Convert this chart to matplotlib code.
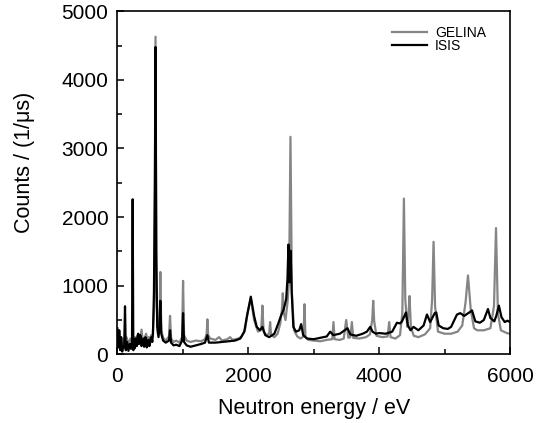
import matplotlib
matplotlib.use("Agg")
import matplotlib.pyplot as plt
from matplotlib.ticker import MultipleLocator

plt.rcParams['font.family'] = ['Liberation Sans', 'DejaVu Sans']

# GELINA spectrum (energy in eV, counts per microsecond)
gelina_energy = [0, 20, 40, 60, 80, 100, 120, 140, 160, 180, 200, 220, 235, 250, 270, 290, 310,
                 330, 350, 370, 390, 420, 440, 460, 480, 500, 520, 540, 565, 584, 600, 620,
                 645, 658, 672, 700, 740, 790, 806, 822, 860,
                 900, 950, 990, 1005, 1020, 1060, 1120, 1200, 1280, 1340, 1366, 1376, 1388,
                 1420, 1500, 1555, 1600, 1680, 1723, 1760, 1850, 1900, 1950, 1990, 2040,
                 2090, 2150, 2200, 2217, 2235, 2280, 2320, 2335, 2350, 2400, 2450, 2490,
                 2515, 2529, 2545, 2570, 2600, 2625, 2646, 2668, 2700, 2750, 2800, 2845,
                 2860, 2875, 2920, 3000, 3100, 3200, 3285, 3303, 3320, 3400, 3460, 3497,
                 3530, 3560, 3584, 3605, 3700, 3800, 3860, 3895, 3910, 3925, 3960, 4050,
                 4130, 4154, 4175, 4250, 4320, 4355, 4379, 4400, 4430, 4450, 4465, 4485,
                 4530, 4600, 4700, 4780, 4810, 4832, 4855, 4900, 5000, 5100, 5200, 5270,
                 5320, 5358, 5400, 5450, 5500, 5600, 5700, 5755, 5786, 5815, 5860, 5950, 6000]
gelina_counts = [320, 260, 200, 170, 150, 220, 170, 250, 190, 160, 230, 200, 260, 180, 250, 220,
                 280, 260, 200, 360, 200, 240, 300, 190, 250, 220, 280, 260, 700, 4630, 900, 300,
                 400, 1200, 350, 240, 200, 260, 560, 230, 180,
                 200, 170, 250, 1070, 280, 200, 180, 200, 190, 220, 300, 510, 280,
                 230, 210, 250, 200, 220, 250, 210, 230, 260, 350, 600, 820,
                 500, 330, 360, 710, 330, 280, 300, 470, 280, 250, 300, 450,
                 650, 890, 600, 500, 750, 1100, 3170, 900, 350, 260, 230, 260,
                 730, 250, 210, 200, 190, 210, 220, 470, 220, 210, 230, 500,
                 240, 250, 470, 240, 230, 250, 290, 500, 780, 480, 270, 250,
                 260, 470, 250, 230, 280, 600, 2270, 800, 400, 600, 850, 400,
                 270, 250, 290, 380, 800, 1640, 700, 330, 300, 300, 330, 420,
                 750, 1150, 650, 380, 350, 350, 380, 700, 1840, 600, 350, 310, 300]

# ISIS spectrum
isis_energy = [0, 10, 20, 30, 45, 60, 75, 90, 105, 118, 130, 150, 170, 190, 210, 225, 235, 245,
               260, 270, 280, 290, 300, 310, 320, 330, 340, 350, 360, 370, 380, 390, 400, 410,
               420, 430, 440, 450, 460, 470, 480, 490, 500, 510, 520, 535, 545,
               560, 575, 584, 595, 610, 630, 645, 658, 672, 700, 740, 790, 806, 822, 860,
               900, 950, 990, 1005, 1020, 1060, 1120, 1200, 1280, 1340, 1376, 1400, 1500,
               1600, 1700, 1800, 1880, 1940, 1980, 2040, 2090, 2130, 2180, 2217, 2260,
               2320, 2400, 2460, 2500, 2540, 2580, 2600, 2615, 2630, 2648, 2665, 2690,
               2730, 2780, 2809, 2840, 2900, 3000, 3100, 3200, 3252, 3300, 3400, 3517,
               3560, 3650, 3750, 3813, 3864, 3900, 3950, 4000, 4100, 4200, 4272, 4320,
               4350, 4410, 4440, 4480, 4526, 4600, 4680, 4731, 4780, 4850, 4873, 4910,
               4980, 5050, 5100, 5190, 5240, 5300, 5393, 5419, 5470, 5540, 5600, 5663,
               5700, 5760, 5790, 5830, 5870, 5920, 5960, 6000]
isis_counts = [380, 300, 100, 350, 60, 250, 40, 120, 100, 700, 60, 180, 50, 150, 80, 200, 2260, 60,
               150, 90, 230, 140, 120, 260, 300, 150, 180, 280, 250, 120, 150, 220, 230, 110,
               140, 250, 180, 100, 130, 210, 200, 120, 160, 230, 250, 180, 300,
               900, 2500, 4480, 1500, 400, 250, 400, 780, 300, 200, 170, 200, 350, 170, 130,
               140, 120, 200, 600, 180, 130, 110, 130, 150, 170, 280, 170, 170,
               180, 190, 200, 230, 330, 550, 840, 560, 400, 350, 400, 280,
               250, 300, 450, 560, 650, 800, 1100, 1600, 1050, 1510, 900, 400,
               330, 350, 440, 280, 230, 220, 240, 260, 330, 280, 300, 380,
               290, 270, 300, 330, 400, 330, 300, 310, 300, 330, 460, 450,
               480, 610, 420, 350, 400, 350, 420, 580, 470, 600, 610, 420,
               380, 370, 400, 580, 600, 560, 620, 640, 480, 460, 500, 660,
               530, 480, 560, 710, 540, 470, 490, 470]

fig = plt.figure(figsize=(5.45, 4.23), dpi=100)
ax = fig.add_axes([0.2152, 0.1624, 0.7206, 0.8109])

ax.plot(gelina_energy, gelina_counts, color='#858585', lw=1.6, label='GELINA')
ax.plot(isis_energy, isis_counts, color='black', lw=1.6, label='ISIS')

ax.set_xlim(0, 6000)
ax.set_ylim(0, 5000)
ax.xaxis.set_major_locator(MultipleLocator(2000))
ax.xaxis.set_minor_locator(MultipleLocator(1000))
ax.yaxis.set_major_locator(MultipleLocator(1000))
ax.yaxis.set_minor_locator(MultipleLocator(500))
ax.tick_params(which='both', direction='in', top=False, right=False, labelsize=15, width=1.1)
ax.tick_params(which='major', length=5)
ax.tick_params(which='minor', length=3.5)
ax.tick_params(axis='x', pad=9)
ax.tick_params(axis='y', pad=6.5)
for s in ax.spines.values():
    s.set_linewidth(1.2)

ax.set_xlabel('Neutron energy / eV', fontsize=15.5)
ax.set_ylabel('Counts / (1/\u03bcs)', fontsize=15.5)
ax.xaxis.set_label_coords(0.5, -0.127)
ax.yaxis.set_label_coords(-0.2096, 0.561)

ax.legend(loc='upper left', bbox_to_anchor=(0.70, 0.958), frameon=False, fontsize=10,
          borderpad=0, borderaxespad=0, handlelength=2.5, handletextpad=0.6, labelspacing=-0.05)

fig.savefig('out.png', dpi=100)
